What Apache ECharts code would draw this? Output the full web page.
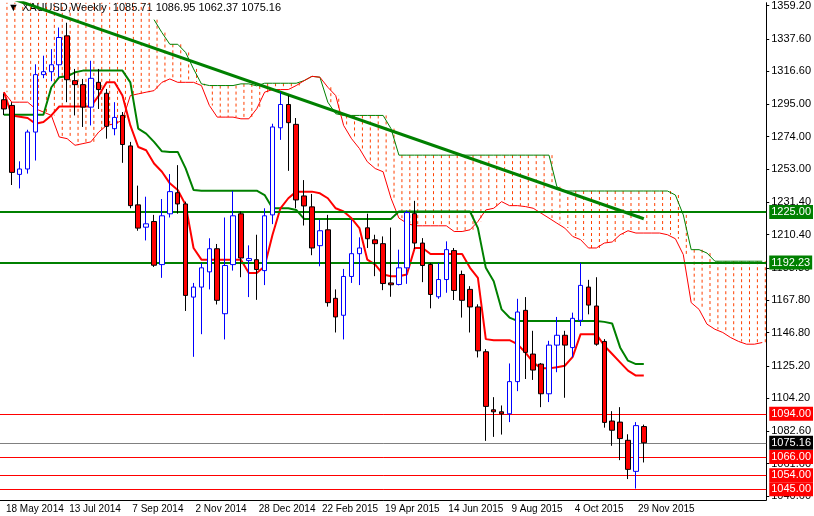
<!DOCTYPE html>
<html><head><meta charset="utf-8">
<script src="https://cdn.jsdelivr.net/npm/echarts@6/dist/echarts.min.js"></script>
<style>html,body{margin:0;padding:0;background:#fff}#c{width:814px;height:516px}</style>
</head><body><div id="c"></div>
<script>
// weekly candles [open, close, low, high], index 0 = 18 May 2014
const candles = [
[1298,1292,1288,1302],[1294.3,1250.8,1242.6,1296.4],[1249.5,1253,1240.4,1258],[1253,1277,1250,1278.5],
[1277,1314.3,1258.5,1321],[1314.3,1316.2,1312,1326.6],[1316.2,1320.7,1310,1330.9],[1320.7,1338.4,1312.6,1344.9],
[1339.5,1311,1296.4,1348],[1310.4,1307.8,1287.8,1318],[1307.8,1293.2,1280.3,1311.5],[1293.2,1311.9,1281.3,1323.3],
[1309.3,1304.6,1292,1318],[1302.2,1280.7,1272.7,1305],[1279.2,1286.5,1274.9,1296.4],[1287.8,1268.9,1257,1290],
[1268,1229.2,1227.5,1270.6],[1229.7,1214.6,1212.9,1242.2],[1215.2,1217.4,1206.6,1235],[1218.9,1190.5,1189.4,1223.2],
[1190.9,1222.6,1182.3,1233.5],[1223.9,1238.3,1221.5,1249.7],[1237.6,1230.3,1224,1255.5],[1230.3,1170.9,1160.8,1231.8],
[1169.8,1176.3,1131,1179],[1176.3,1188.8,1145.7,1192],[1186.2,1201.2,1174.8,1208],[1201.2,1167.7,1165,1204.3],
[1159,1190.3,1142.3,1221.5],[1190.9,1222.6,1187,1238.7],[1223.9,1195.2,1182.7,1225.4],[1193.5,1194.8,1169.8,1203.4],
[1194.1,1187.7,1168,1210.3],[1187,1222.6,1177.6,1227.5],[1223.2,1280.3,1217.2,1282.4],[1279.8,1294.9,1271.9,1302.9],
[1294.9,1283.1,1251.8,1300.7],[1282,1232.9,1227.5,1286.1],[1235.5,1229,1216.3,1245.8],[1228.4,1201.7,1197,1236.8],
[1203.2,1212.9,1189.8,1220],[1213.5,1166.2,1163.6,1223.2],[1169,1156.9,1146.8,1174.8],[1158,1183.2,1142.3,1188.1],
[1183.2,1198,1179,1220],[1198,1201.7,1177.6,1208.6],[1214.8,1207.7,1201.7,1224],[1207,1204.5,1183.4,1210.3],
[1204.5,1178.6,1174.3,1209.2],[1179,1177.8,1170,1215],[1178,1188.8,1177.4,1200.6],[1188.8,1224.7,1178.4,1226],
[1224,1204.9,1201,1232.3],[1204.9,1190.3,1179.5,1208.1],[1191,1171.5,1162.5,1192],[1170,1181.2,1168.7,1192],
[1181.2,1200.6,1172.6,1206],[1200,1174.1,1167.9,1201.7],[1184.5,1167.7,1156.5,1187],[1174.8,1163.4,1146.8,1176.9],
[1163.4,1134.9,1130.6,1165.1],[1134.3,1098.8,1076.4,1136],[1096.6,1095.3,1079,1104.8],[1095.3,1094,1080.5,1099.4],
[1094,1114.9,1088.6,1126.7],[1114.9,1160.1,1108.7,1168.7],[1161.2,1133.9,1116.6,1169.8],[1132.8,1122.4,1116,1147.9],
[1126.3,1107,1098.3,1127],[1107,1138.6,1101.6,1141.4],[1138.6,1145,1121,1156.9],[1145,1138.6,1104.4,1147.9],
[1137,1156,1130.6,1159.7],[1154.7,1177.4,1151,1192],[1176.3,1164.6,1158.6,1181],[1164,1139.2,1138.2,1182.7],
[1141,1088.4,1085,1142.5],[1089.3,1083.3,1073.2,1095.7],[1088.6,1077.9,1063.9,1098.3],[1076.8,1057.9,1051.6,1080.7],
[1056.6,1086.3,1045.4,1088.6],[1085.71,1075.16,1062.37,1086.95]
];
const tenkan = [1302.9,1287.8,1287,1286.1,1282.4,1283.5,1287.8,1293.6,1293.6,1293.6,1293.6,1293.6,1300.7,1309.3,1309.3,1300.7,
1281.3,1267.3,1265.2,1256.6,1251.2,1243.7,1239.4,1229.7,1201.7,1194.1,1194.1,1194.1,1194.1,1194.1,1194.1,1185.5,1185.5,1189.8,
1210.3,1227.5,1234,1238.3,1238.3,1238.3,1237.2,1234,1227.5,1225.4,1221,1214.6,1194.1,1190.9,1184.5,1183.4,1183.4,1184.5,
1201.7,1201.7,1197.8,1197.8,1197.8,1197.8,1197.8,1188.8,1182.3,1142.5,1141.8,1141.8,1141.8,1139.2,1133.9,1127.4,1123.5,1123.5,
1124.2,1125.2,1131,1145.7,1145.7,1145.7,1138.2,1132.8,1127.4,1122,1118.8,1118.8];
const kijun = [1288.2,1288.2,1288.2,1288.2,1288.2,1288.2,1306.1,1312.6,1313.2,1315.8,1316.9,1316.9,1316.9,1316.9,1316.9,1316.9,
1309.3,1279.2,1276,1270.6,1264.5,1264.1,1264.1,1253.4,1239.4,1238.9,1238.9,1238.9,1238.9,1238.9,1238.9,1238.9,1238.9,1236.1,
1227.5,1227.5,1227.5,1226.4,1220.6,1220.6,1220.6,1220.6,1220.6,1220.6,1220.6,1220.6,1220.6,1220.6,1220.6,1220.6,1225.4,1225.4,
1225.4,1225.4,1225.4,1225.4,1225.4,1225.4,1225.4,1225.4,1214.6,1188.8,1180.1,1161.8,1156.5,1154.3,1154.3,1154.3,1154.3,1154.3,
1154.3,1154.3,1154.3,1154.3,1154.3,1154.3,1153.7,1152.6,1137.1,1128.5,1126.3,1126.3];
const spanA = [1370,1370,1370,1370,1370,1370,1370,1370,1370,1370,1370,1370,1370,1370,1370,1370,1370,1370,1370,
1350,1341.6,1334,1334,1328.7,1318,1308.3,1307.2,1307.2,1307.2,1307.2,1308.3,1308.3,1307,1308.7,1308.7,1308.7,1308.7,1308.7,
1310.4,1313.2,1312.6,1296.4,1288.9,1287.8,1287.8,1287.8,1287.8,1287.8,1287.8,1279.2,1262,1262,1262,1262,1262,1262,1262,1262,
1262,1262,1262,1262,1262,1262,1262,1262,1262,1262,1262,1262,1241.5,1238.7,1238.7,1238.7,1238.7,1238.7,1238.7,1238.7,1238.7,
1238.7,1238.7,1238.7,1238.7,1238.7,1238.7,1236.1,1223.2,1200.6,1200.6,1198.4,1193.1,1193.1,1193.1,1193.1,1193.1,1193.1,1193.1];
const spanB = [1302.9,1296.4,1296.4,1296.4,1292.1,1290,1287.8,1273.8,1272.7,1268.4,1269.5,1270.6,1277,1281.3,1282.4,1284.6,
1300.7,1301.8,1302.9,1303.9,1309.3,1311.5,1309.3,1309.3,1309.3,1307.2,1294.3,1286.7,1286.7,1286.7,1285.6,1285.6,1292.1,1302.9,
1304.6,1304.6,1304.6,1307.2,1310.4,1313.2,1312.6,1306.1,1300.7,1281.3,1272.7,1266.3,1257.7,1253.3,1251.2,1234,1221.1,1217.8,
1216.1,1216.1,1216.1,1216.1,1216.1,1212.4,1212.4,1213.5,1218.9,1226.4,1227.5,1231.8,1229.2,1229.2,1228.6,1227.5,1224.3,1221.1,
1217.8,1214.6,1209.2,1207.1,1201.7,1201.7,1204.9,1205.6,1210.3,1212.9,1211.4,1211.4,1211.4,1211.4,1210.3,1207.7,1197.4,1166.2,
1161.8,1152.2,1148.9,1146.8,1143.5,1141,1139.2,1139.2,1140.3];
const yTicks = [1359.2,1337.6,1316.6,1295,1274,1253,1231.4,1210.4,1188.8,1167.8,1146.8,1125.2,1104.2,1082.6,1061.6,1040.6];
const levels = [{v:1225,c:'#008000',w:2},{v:1192.23,c:'#008000',w:2},{v:1094,c:'#ff0000',w:1},{v:1075.16,c:'#808080',w:1,bg:'#000'},
{v:1066,c:'#ff0000',w:1},{v:1054,c:'#ff0000',w:1},{v:1045,c:'#ff0000',w:1}];
const trend = {start:[0,1365.5], end:[81,1220.7]};
const N = 97;
const d0 = new Date(Date.UTC(2014,4,18));
const M = ['Jan','Feb','Mar','Apr','May','Jun','Jul','Aug','Sep','Oct','Nov','Dec'];
const cats = [];
for (let i=0;i<N;i++){const d=new Date(d0.getTime()+i*7*864e5);cats.push(d.getUTCDate()+' '+M[d.getUTCMonth()]+' '+d.getUTCFullYear());}
const trendData = new Array(N).fill('-'); trendData[trend.start[0]]=trend.start[1]; trendData[trend.end[0]]=trend.end[1];
const spanAline = spanA.map(v=>v>1361?'-':v);
const F = 'Liberation Sans';
const show = i => i%8===0 && i<=80;
const levelSeries = levels.map(l=>({type:'line',data:[],silent:true,z:4,color:l.c,
  markLine:{symbol:'none',silent:true,animation:false,lineStyle:{color:l.c,width:l.w,type:'solid',opacity:1},
    data:[{yAxis:l.v,lineStyle:{color:l.c}}],
    label:{show:true,position:'end',distance:3,formatter:l.v.toFixed(2),color:'#fff',backgroundColor:l.bg||l.c,
      padding:[2,2,1,2],fontFamily:F,fontSize:11}}}));
const chart = echarts.init(document.getElementById('c'));
chart.setOption({
  animation:false, backgroundColor:'#fff',
  grid:{left:-4,top:0,width:779,height:500},
  xAxis:{type:'category',data:cats,boundaryGap:true,
    axisLine:{lineStyle:{color:'#000'}},
    axisTick:{interval:show,alignWithLabel:true,length:4,lineStyle:{color:'#000'}},
    axisLabel:{interval:0,formatter:(v,i)=>show(i)?v:'',align:'left',margin:4,padding:[0,0,0,2],color:'#000',fontFamily:F,fontSize:10}},
  yAxis:{type:'value',position:'right',min:1038,max:1361,splitLine:{show:false},
    axisLine:{show:true,lineStyle:{color:'#000'}},
    axisTick:{show:true,length:3,customValues:yTicks,lineStyle:{color:'#000'}},
    axisLabel:{customValues:yTicks,formatter:v=>Number(v).toFixed(2),color:'#000',fontFamily:F,fontSize:11,margin:5}},
  graphic:[{type:'text',left:8,top:2,style:{text:'▼ XAUUSD,Weekly  1085.71 1086.95 1062.37 1075.16',fill:'#000',font:'11px Liberation Sans'}}],
  series:[
    {type:'custom',clip:true,z:1,data:spanA.map((a,i)=>[i,a,spanB[i]]),
      renderItem:(p,api)=>{const a=api.coord([api.value(0),api.value(1)]),b=api.coord([api.value(0),api.value(2)]);
        return {type:'line',shape:{x1:a[0]+3,y1:a[1],x2:a[0]+3,y2:b[1]},style:{stroke:'#ff4000',lineWidth:1,lineDash:[3,3]}};}},
    {type:'line',data:spanAline,symbol:'none',lineStyle:{color:'#008000',width:1},z:2},
    {type:'line',data:spanB,symbol:'none',lineStyle:{color:'#ff0000',width:1},z:2},
    {type:'line',data:kijun,symbol:'none',lineStyle:{color:'#008000',width:2},z:3},
    {type:'line',data:tenkan,symbol:'none',lineStyle:{color:'#ff0000',width:2},z:3},
    {type:'line',data:trendData,connectNulls:true,symbol:'none',lineStyle:{color:'#008000',width:3},z:4},
    {type:'candlestick',data:candles,barWidth:5,z:5,
      itemStyle:{color:'#ffffff',color0:'#ff0000',borderColor:'#0000ff',borderColor0:'#000000',borderWidth:1}}
  ].concat(levelSeries)
});
</script></body></html>
